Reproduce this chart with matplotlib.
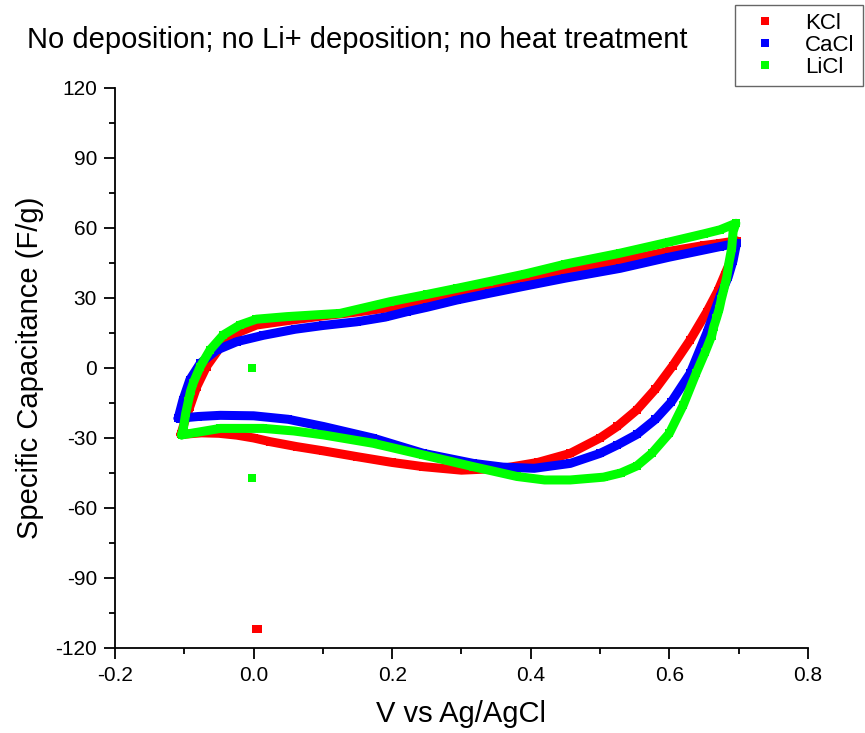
import numpy as np
import matplotlib
matplotlib.use("Agg")
import matplotlib.pyplot as plt
from matplotlib.lines import Line2D
from matplotlib.ticker import MultipleLocator

plt.rcParams['font.family'] = ['Liberation Sans', 'DejaVu Sans']
plt.rcParams['axes.unicode_minus'] = False

# CV loops (V vs Ag/AgCl, F/g)
kcl_v = [-0.105, -0.100, -0.092, -0.082, -0.068, -0.048, -0.024, 0.004, 0.042, 0.100, 0.150,
         0.200, 0.250, 0.300, 0.350, 0.400, 0.450, 0.500, 0.550, 0.600, 0.650, 0.673, 0.697,
         0.690, 0.680, 0.670, 0.654, 0.630, 0.605, 0.580, 0.553, 0.525, 0.500, 0.457, 0.410,
         0.360, 0.300, 0.245, 0.200, 0.149, 0.100, 0.062, 0.024, 0.000, -0.024, -0.050,
         -0.075, -0.105]
kcl_c = [-28.5, -23.5, -16.6, -8.0, 0.6, 9.0, 15.0, 18.4, 20.0, 22.3, 24.0,
         26.0, 28.5, 31.3, 34.5, 37.7, 41.0, 44.0, 47.0, 50.0, 52.5, 53.4, 54.5,
         47.0, 40.0, 33.0, 24.0, 12.0, 1.0, -9.0, -18.0, -25.0, -30.0, -36.6, -40.5,
         -43.0, -43.8, -42.3, -40.5, -38.0, -35.5, -33.7, -31.6, -30.0, -28.8, -28.0,
         -27.8, -28.5]

cacl_v = [-0.109, -0.102, -0.092, -0.077, -0.053, -0.024, 0.014, 0.060, 0.100, 0.149, 0.190,
          0.221, 0.250, 0.293, 0.340, 0.390, 0.450, 0.529, 0.600, 0.673, 0.697,
          0.692, 0.685, 0.673, 0.654, 0.630, 0.603, 0.580, 0.553, 0.525, 0.500, 0.457, 0.405,
          0.360, 0.317, 0.245, 0.173, 0.101, 0.050, 0.000, -0.048, -0.080, -0.109]
cacl_c = [-21.6, -13.7, -5.0, 2.0, 7.7, 11.3, 14.0, 16.6, 18.2, 19.8, 21.8,
          24.1, 26.0, 29.1, 32.0, 35.0, 38.5, 42.7, 47.5, 52.0, 53.5,
          46.0, 39.0, 30.6, 15.0, -2.3, -14.5, -22.0, -28.5, -33.0, -36.6, -40.9, -43.0,
          -42.5, -40.9, -36.6, -30.1, -25.1, -22.0, -20.5, -20.3, -20.8, -21.6]

licl_v = [-0.104, -0.101, -0.098, -0.094, -0.091, -0.087, -0.077, -0.063, -0.044, -0.020,
          0.004, 0.048, 0.125, 0.197, 0.250, 0.293, 0.340, 0.392, 0.450, 0.529, 0.600, 0.650,
          0.673, 0.696,
          0.692, 0.690, 0.686, 0.683, 0.679, 0.675, 0.672, 0.668, 0.664, 0.661, 0.652, 0.639,
          0.620, 0.600, 0.575, 0.553, 0.530, 0.505, 0.457, 0.420, 0.380, 0.317, 0.245, 0.173,
          0.101, 0.058, 0.014, -0.048, -0.104]
licl_c = [-28.7, -25.1, -19.4, -14.0, -9.9, -6.3, 0.6, 7.7, 14.1, 18.4,
          20.9, 22.0, 23.4, 28.4, 31.5, 34.1, 37.0, 40.3, 44.5, 49.2, 54.0, 57.5,
          59.2, 62.0,
          58.4, 51.3, 45.0, 39.1, 34.1, 29.4, 25.3, 21.3, 17.6, 13.7, 7.0, -2.0,
          -16.0, -28.0, -36.5, -42.0, -45.0, -46.8, -48.0, -48.0, -46.5, -42.3, -37.3, -32.3,
          -28.7, -27.0, -25.9, -25.9, -28.7]

# stray first points of each scan
kcl_out_v = [0.004, 0.006]
kcl_out_c = [-112.0, -112.0]
licl_out_v = [-0.003, -0.003]
licl_out_c = [0.0, -47.3]

fig = plt.figure(figsize=(8.65, 7.33), dpi=100)
ax = fig.add_axes([0.133, 0.116, 0.801, 0.764])

series = [
    ('KCl', '#ff0000', kcl_v, kcl_c, kcl_out_v, kcl_out_c),
    ('CaCl', '#0000ff', cacl_v, cacl_c, [], []),
    ('LiCl', '#00ff00', licl_v, licl_c, licl_out_v, licl_out_c),
]
handles = []
for name, col, v, c, ov, oc in series:
    ax.plot(v, c, '-', color=col, lw=6.5, solid_joinstyle='round', solid_capstyle='round')
    ax.plot(v, c, 's', color=col, ms=6, mew=0)
    if ov:
        ax.plot(ov, oc, 's', color=col, ms=5.5, mew=0)
    handles.append(Line2D([], [], ls='none', marker='s', color=col, ms=5.5, mew=0, label=name))

ax.set_xlim(-0.2, 0.8)
ax.set_ylim(-120, 120)
ax.xaxis.set_major_locator(MultipleLocator(0.2))
ax.xaxis.set_minor_locator(MultipleLocator(0.1))
ax.yaxis.set_major_locator(MultipleLocator(30))
ax.yaxis.set_minor_locator(MultipleLocator(15))
ax.xaxis.set_major_formatter(plt.FuncFormatter(lambda x, p: f'{x:.1f}'))
for s in ['top', 'right']:
    ax.spines[s].set_visible(False)
for s in ['left', 'bottom']:
    ax.spines[s].set_linewidth(1.3)
ax.tick_params(which='major', direction='out', length=8, width=1.3, labelsize=15, pad=5)
ax.tick_params(which='minor', direction='out', length=4, width=1.3)

ax.set_xlabel('V vs Ag/AgCl', fontsize=21, labelpad=11)
ax.set_ylabel('Specific Capacitance (F/g)', fontsize=21, labelpad=8)
fig.text(0.031, 0.945, 'No deposition; no Li+ deposition; no heat treatment', fontsize=21,
         va='center', ha='left')

leg = fig.legend(handles=handles, loc='upper left', bbox_to_anchor=(0.850, 0.993),
                 fontsize=16, frameon=True, fancybox=False, handlelength=2.0,
                 handletextpad=0.8, borderpad=0.35, labelspacing=0.05, borderaxespad=0)
leg.get_frame().set_edgecolor('#404040')
leg.get_frame().set_linewidth(1.0)

fig.savefig('out.png', dpi=100)
